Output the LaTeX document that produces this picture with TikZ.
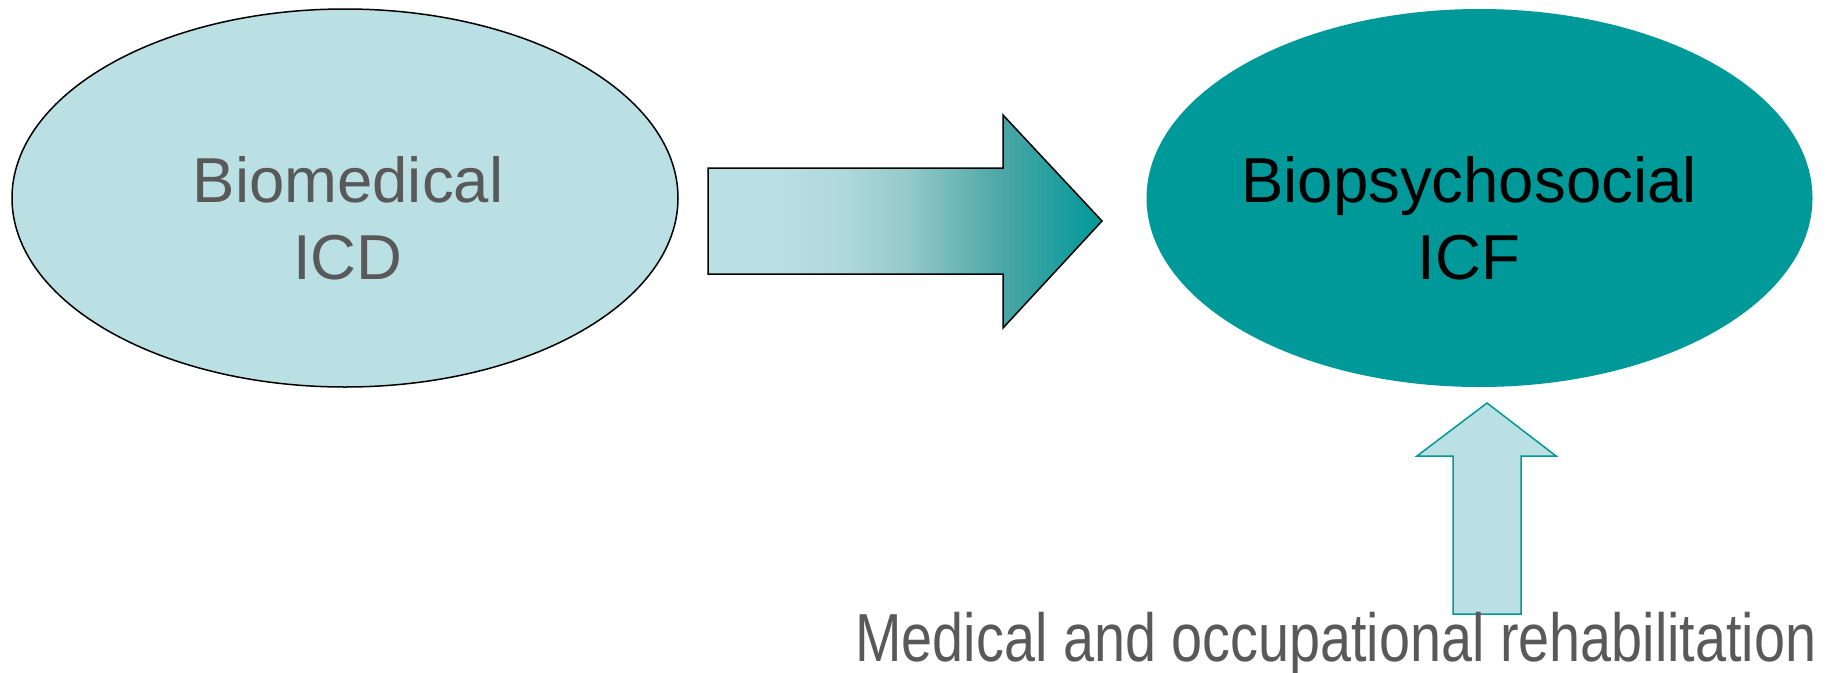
\documentclass[tikz,border=0pt]{standalone}
\usepackage{fontspec}
\setmainfont{Liberation Sans}
\usepackage{graphicx}
\definecolor{lightteal}{RGB}{186,224,227}
\definecolor{lightteal2}{RGB}{176,217,220}
\definecolor{midteal}{RGB}{150,202,203}
\definecolor{darkmid}{RGB}{74,166,166}
\definecolor{teal1}{RGB}{0,153,153}
\definecolor{txtgray}{RGB}{89,89,89}
\pgfdeclarehorizontalshading{arrowgrad}{100bp}{color(0bp)=(lightteal); color(25bp)=(lightteal); color(33bp)=(lightteal); color(42bp)=(lightteal2); color(50bp)=(midteal); color(62.5bp)=(darkmid); color(75bp)=(teal1); color(100bp)=(teal1)}
\tikzset{
  oval/.style={ellipse, minimum width=666pt, minimum height=378pt, inner sep=0pt},
  bigtext/.style={font=\fontsize{63.5}{77}\selectfont, align=center, anchor=base, inner sep=0pt},
}
\usetikzlibrary{shapes.geometric}
\begin{document}
\begin{tikzpicture}[x=1pt,y=-1pt]
\useasboundingbox (0,0) rectangle (1828,672);
% left ellipse
\node[oval, fill=lightteal, draw=black, line width=1.5pt] (bio) at (345,198) {};
\node[bigtext, text=txtgray] (biot) at (348,279) {Biomedical\\ICD};
% right ellipse
\node[oval, fill=teal1] (bps) at (1479.5,198) {};
\node[bigtext, text=black] (bpst) at (1469,279) {Biopsychosocial\\ICF};
% gradient arrow
\coordinate (a1) at (708,168);
\shade[shading=arrowgrad, draw=black, line width=1.5pt, line join=miter]
  (a1) -- (1003,168) -- (1003,115) -- (1102,221) -- (1003,328) -- (1003,274) -- (708,274) -- cycle;
% up arrow
\coordinate (u1) at (1487,403);
\draw[fill=lightteal, draw=teal1, line width=1.5pt, line join=miter]
  (u1) -- (1556,456) -- (1521,456) -- (1521,614) -- (1453,614) -- (1453,456) -- (1417,456) -- cycle;
% bottom text
\node[anchor=base, inner sep=0pt, text=txtgray, font=\fontsize{68}{80}\selectfont] (rehab) at (1336,661)
  {\scalebox{0.82}[1]{Medical and occupational rehabilitation}};
\end{tikzpicture}
\end{document}
